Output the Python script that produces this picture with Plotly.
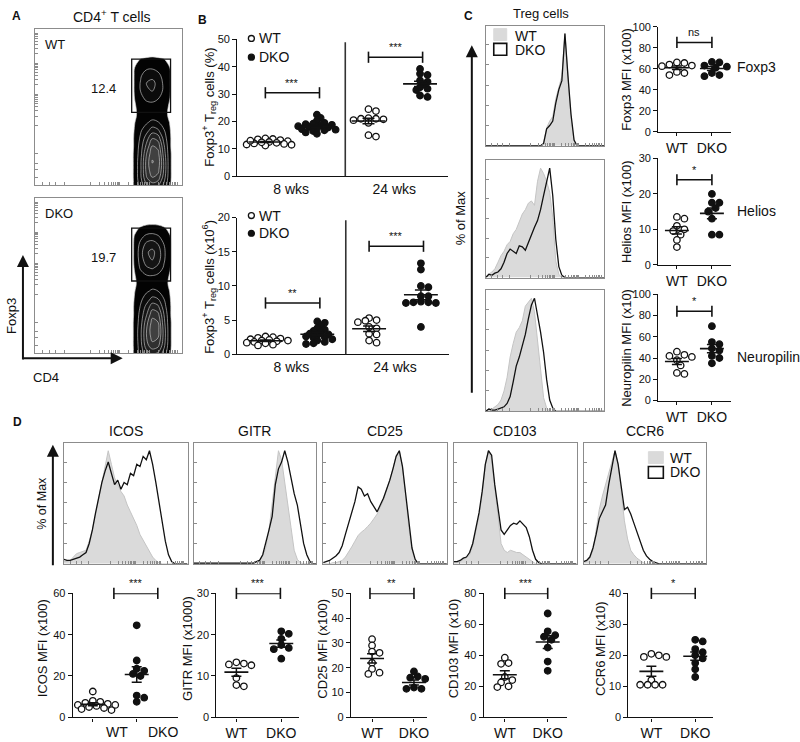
import numpy as np
import plotly.graph_objects as go

W, H = 800, 742
FONT = "Liberation Sans, Arial, sans-serif"
INK = "#111111"

# ---------------- panel A: Foxp3 vs CD4 density (rows = Foxp3 bins, cols = CD4 bins)
a_cd4_bins = [0.64, 0.68, 0.72, 0.76, 0.80, 0.84, 0.88, 0.92, 0.96]
a_foxp3_bins = [0.0, 0.05, 0.10, 0.15, 0.20, 0.25, 0.30, 0.35, 0.40,
                0.45, 0.50, 0.55, 0.60, 0.65, 0.70, 0.75, 0.80, 0.85]
a_wt_density = [
    [0, 1.2, 3.0, 5.0, 6.0, 5.5, 3.5, 1.2, 0],
    [0, 1.3, 3.5, 6.5, 8.0, 7.5, 4.5, 1.3, 0],
    [0, 1.3, 3.5, 7.0, 9.0, 8.5, 5.0, 1.3, 0],
    [0, 1.3, 3.5, 7.0, 9.5, 9.0, 5.0, 1.3, 0],
    [0, 1.3, 3.2, 6.5, 9.0, 8.5, 4.5, 1.3, 0],
    [0, 1.2, 3.0, 5.5, 8.0, 7.5, 4.0, 1.2, 0],
    [0, 1.2, 2.6, 4.5, 6.5, 6.0, 3.2, 1.2, 0],
    [0, 1.1, 2.2, 3.2, 4.5, 4.0, 2.5, 1.1, 0],
    [0, 0.95, 1.8, 2.2, 2.8, 2.5, 1.8, 0.95, 0],
    [0, 0.8, 1.4, 1.6, 1.6, 1.5, 1.3, 0.8, 0],
    [0, 0.85, 1.5, 1.8, 1.8, 1.6, 1.4, 0.85, 0],
    [0, 1.0, 2.0, 2.6, 2.8, 2.4, 1.8, 1.0, 0],
    [0, 1.1, 2.4, 3.4, 3.8, 3.2, 2.1, 1.1, 0],
    [0, 1.1, 2.5, 3.8, 4.2, 3.4, 2.1, 1.1, 0],
    [0, 1.1, 2.2, 3.2, 3.4, 2.8, 1.9, 1.1, 0],
    [0, 1.0, 1.6, 2.1, 2.2, 1.9, 1.5, 1.0, 0],
    [0, 0.6, 1.1, 1.2, 1.3, 1.2, 1.1, 0.6, 0],
    [0, 0, 0.3, 0.5, 0.5, 0.5, 0.3, 0, 0],
]
a_dko_density = [
    [0, 1.2, 3.0, 4.5, 5.5, 5.0, 3.2, 1.2, 0],
    [0, 1.3, 3.2, 6.0, 7.5, 7.0, 4.2, 1.3, 0],
    [0, 1.3, 3.4, 6.5, 8.5, 8.0, 4.6, 1.3, 0],
    [0, 1.3, 3.4, 6.5, 9.0, 8.5, 4.6, 1.3, 0],
    [0, 1.3, 3.1, 6.0, 8.5, 8.0, 4.2, 1.3, 0],
    [0, 1.2, 2.9, 5.0, 7.5, 7.0, 3.8, 1.2, 0],
    [0, 1.2, 2.5, 4.2, 6.0, 5.5, 3.0, 1.2, 0],
    [0, 1.1, 2.1, 3.0, 4.2, 3.8, 2.4, 1.1, 0],
    [0, 0.95, 1.8, 2.2, 2.6, 2.4, 1.8, 0.95, 0],
    [0, 0.8, 1.5, 1.8, 1.8, 1.7, 1.4, 0.8, 0],
    [0, 0.9, 1.8, 2.3, 2.4, 2.1, 1.6, 0.9, 0],
    [0, 1.1, 2.6, 3.6, 4.0, 3.4, 2.2, 1.1, 0],
    [0, 1.2, 3.0, 4.6, 5.2, 4.4, 2.6, 1.2, 0],
    [0, 1.2, 3.2, 5.0, 5.6, 4.6, 2.7, 1.2, 0],
    [0, 1.2, 2.8, 4.2, 4.6, 3.8, 2.4, 1.2, 0],
    [0, 1.1, 2.0, 2.8, 3.0, 2.6, 1.8, 1.1, 0],
    [0, 0.7, 1.2, 1.4, 1.5, 1.4, 1.2, 0.7, 0],
    [0, 0, 0.4, 0.6, 0.6, 0.6, 0.4, 0, 0],
]
a_groups = ["WT", "DKO"]
a_gate_freq = ["12.4", "19.7"]

# ---------------- panel B: Foxp3+ Treg frequency and number
b_ages = ["8 wks", "24 wks"]
b_pct_wt_8 = [13.5, 13.8, 13.2, 13.6, 12.8, 12.5, 12.0, 11.8, 11.5, 11.2, 12.2, 11.6, 12.4, 13.0]
b_pct_dko_8 = [22.5, 21.3, 20.3, 19.5, 19.0, 18.5, 18.3, 18.0, 17.8, 17.5, 17.2,
               16.8, 16.5, 16.0, 15.5, 18.8, 19.2, 17.0]
b_pct_wt_24 = [24.5, 23.8, 21.0, 21.2, 21.0, 20.8, 20.5, 15.0, 14.5, 19.5]
b_pct_dko_24 = [39.2, 37.5, 37.0, 35.0, 34.5, 33.5, 32.5, 32.0, 29.5, 29.0, 31.5]
b_pct_sig = ["***", "***"]
b_num_wt_8 = [2.6, 2.5, 2.4, 2.3, 2.2, 2.1, 2.0, 2.0, 1.9, 1.8, 1.7, 1.6, 1.4, 1.3]
b_num_dko_8 = [4.8, 4.6, 4.2, 3.8, 3.6, 3.4, 3.2, 3.0, 2.9, 2.8, 2.6, 2.5, 2.4,
               2.2, 2.0, 1.8, 1.6, 1.5]
b_num_wt_24 = [5.3, 5.0, 4.9, 4.7, 4.0, 3.8, 3.0, 2.9, 2.0, 1.7]
b_num_dko_24 = [13.3, 12.4, 10.0, 9.8, 8.5, 8.5, 7.6, 7.5, 7.6, 7.7, 7.5, 4.0]
b_num_sig = ["**", "***"]

# ---------------- panel C: Treg histograms (% of max per bin) and MFI
hist_bins = [round(i / 39, 4) for i in range(40)]
c_markers = ["Foxp3", "Helios", "Neuropilin"]
hist_foxp3_wt = [0] * 19 + [3, 16, 22, 26, 42, 52, 62, 100, 58, 25, 4] + [0] * 10
hist_foxp3_dko = [0] * 19 + [2, 15, 18, 22, 38, 50, 58, 100, 62, 28, 5] + [0] * 10
hist_helios_wt = [0, 3, 5, 8, 14, 20, 24, 30, 33, 40, 44, 52, 58, 62, 68, 70, 66, 88,
                  100, 95, 88, 78, 55, 15, 3, 0] + [0] * 14
hist_helios_dko = [0, 3, 2, 4, 5, 8, 14, 22, 26, 24, 22, 29, 28, 25, 32, 40, 46, 52,
                   62, 75, 88, 100, 75, 35, 10, 2] + [0] * 14
hist_nrp_wt = [0, 2, 2, 4, 6, 10, 18, 30, 48, 60, 70, 74, 80, 93, 97, 100, 88, 62,
               35, 12, 3, 0] + [0] * 18
hist_nrp_dko = [0, 2, 1, 1, 2, 3, 4, 7, 13, 26, 40, 48, 58, 68, 82, 94, 100, 86, 70,
                52, 28, 10, 3, 0] + [0] * 16
c_foxp3_wt = [66, 65.5, 64, 63, 62.5, 57, 56, 54]
c_foxp3_dko = [66.5, 66, 63, 62, 61, 56, 54, 53]
c_helios_wt = [13.5, 13, 11, 10, 9.5, 8.5, 7, 5]
c_helios_dko = [20, 17.5, 17.5, 16, 15, 13, 8.5, 8.5]
c_nrp_wt = [46, 43, 42, 41, 38, 33, 26, 25]
c_nrp_dko = [70, 55, 53, 49, 47, 42, 40, 35]
c_sig = ["ns", "*", "*"]

# ---------------- panel D: other Treg markers
d_markers = ["ICOS", "GITR", "CD25", "CD103", "CCR6"]
hist_icos_wt = [2, 2, 3, 6, 9, 10, 11, 12, 20, 30, 44, 58, 72, 88, 100, 88, 76, 70, 64,
                60, 52, 46, 40, 34, 26, 21, 16, 11, 6, 3, 1] + [0] * 9
hist_icos_dko = [4, 3, 3, 4, 5, 6, 8, 10, 18, 30, 45, 60, 72, 82, 90, 80, 70, 74, 66,
                 72, 70, 80, 78, 88, 86, 95, 92, 100, 88, 72, 56, 38, 20, 8, 2] + [0] * 5
hist_gitr_wt = [0.5] * 20 + [2, 3, 7, 14, 30, 52, 78, 100, 92, 74, 52, 32, 12, 4, 1,
                             0, 0, 0, 0, 0]
hist_gitr_dko = [0.5] * 20 + [2, 3, 8, 18, 30, 42, 70, 84, 90, 100, 90, 76, 62, 52,
                              36, 18, 8, 2, 0, 0]
hist_cd25_wt = [0, 0, 0, 1, 1, 2, 3, 6, 10, 15, 20, 25, 28, 30, 33, 36, 40, 44, 50, 56,
                66, 74, 84, 96, 100, 86, 60, 32, 12, 3, 0] + [0] * 9
hist_cd25_dko = [1, 2, 3, 5, 7, 10, 16, 26, 36, 46, 55, 68, 66, 60, 62, 55, 50, 46, 52,
                 58, 66, 74, 84, 95, 100, 86, 62, 35, 14, 4, 0] + [0] * 9
hist_cd103_wt = [1, 1, 2, 4, 5, 8, 16, 30, 42, 62, 88, 100, 92, 68, 44, 18, 12, 10, 12,
                 11, 10, 10, 8, 6, 4, 2, 0] + [0] * 13
hist_cd103_dko = [2, 2, 3, 5, 6, 10, 18, 32, 45, 64, 88, 100, 96, 70, 48, 30, 26, 30,
                  34, 36, 35, 38, 35, 32, 24, 12, 4, 1] + [0] * 12
hist_ccr6_wt = [1, 2, 5, 12, 30, 48, 60, 70, 78, 90, 100, 88, 62, 38, 22, 12, 8, 5, 3,
                1, 0] + [0] * 19
hist_ccr6_dko = [2, 3, 6, 14, 26, 40, 46, 52, 70, 84, 100, 88, 68, 48, 50, 44, 36, 28,
                 20, 12, 7, 4, 2, 1] + [0] * 16
d_icos_wt = [12.5, 8, 7.5, 7, 6.5, 6, 6, 5.5, 5, 4.5, 4, 3.5]
d_icos_dko = [44.5, 27.5, 23.5, 22.5, 21, 20, 10.5, 9.5, 7.5]
d_gitr_wt = [13.3, 13.0, 12.8, 12.6, 9.5, 7.5, 7.8]
d_gitr_dko = [20.8, 20.2, 19.0, 17.5, 16.8, 16.5, 14.2]
d_cd25_wt = [31.5, 29, 26.5, 26, 22, 19.5, 18, 17.5]
d_cd25_dko = [18.5, 16.5, 16, 15.5, 12, 11.5, 11.5, 11]
d_cd103_wt = [38.5, 35, 34.5, 26, 24, 22.5, 20, 19.5]
d_cd103_dko = [67, 55.5, 53, 52, 50, 45, 36, 30]
d_ccr6_wt = [20.5, 20, 19.5, 19.5, 12, 10.5, 10.5, 10.5, 10.5]
d_ccr6_dko = [25, 24.5, 22, 21, 20, 19, 17.5, 15.5, 13]
d_sig = ["***", "***", "**", "***", "*"]

# ---------------- helpers
fig = go.Figure()
layout = dict(width=W, height=H, margin=dict(l=0, r=0, t=0, b=0), autosize=False,
              paper_bgcolor="white", plot_bgcolor="white", showlegend=False,
              font=dict(family=FONT, color=INK))
shapes, anns = [], []
n_ax = [0]


def P(x, y):
    return dict(x=x / W, y=1 - y / H, xref="paper", yref="paper")


def text(x, y, s, size=13, anchor="center", angle=0):
    anns.append(dict(**P(x, y), text=s, showarrow=False, xanchor=anchor, yanchor="middle",
                     textangle=angle, font=dict(size=size, family=FONT, color=INK)))


def arrow(hx, hy, tx, ty):
    anns.append(dict(**P(hx, hy), ax=tx - hx, ay=ty - hy, text="", showarrow=True,
                     arrowhead=2, arrowsize=1.2, arrowwidth=2, arrowcolor=INK))


def box_px(x0, y0, x1, y1, fill, line, width=1.5):
    shapes.append(dict(type="rect", xref="paper", yref="paper", x0=x0 / W, x1=x1 / W,
                       y0=1 - y1 / H, y1=1 - y0 / H, fillcolor=fill,
                       line=dict(color=line, width=width)))


def dot_px(cx, cy, r, filled):
    shapes.append(dict(type="circle", xref="paper", yref="paper", x0=(cx - r) / W,
                       x1=(cx + r) / W, y0=1 - (cy + r) / H, y1=1 - (cy - r) / H,
                       fillcolor=INK if filled else "white", line=dict(color=INK, width=1.3)))


def add_axes(box, xr, yr, xkw, ykw):
    n_ax[0] += 1
    sfx = "" if n_ax[0] == 1 else str(n_ax[0])
    x0, y0, x1, y1 = box
    xa = dict(domain=[x0 / W, x1 / W], range=xr, anchor="y" + sfx, showgrid=False,
              zeroline=False)
    ya = dict(domain=[1 - y1 / H, 1 - y0 / H], range=yr, anchor="x" + sfx, showgrid=False,
              zeroline=False)
    xa.update(xkw)
    ya.update(ykw)
    layout["xaxis" + sfx] = xa
    layout["yaxis" + sfx] = ya
    return "x" + sfx, "y" + sfx


facs_ticks = sorted({round(d + 0.2 * np.log10(k), 3) for d in (0.38, 0.58, 0.78)
                     for k in range(1, 10) if d + 0.2 * np.log10(k) < 0.99}
                    | {0.05, 0.1, 0.14, 0.2})


def facs_axis(ticks):
    return dict(showline=True, mirror=True, linecolor="#8c8c8c", linewidth=1,
                ticks="inside", ticklen=3, tickcolor="#8c8c8c", tickvals=ticks,
                showticklabels=False)


def dot_axes(box, xr, yr, yticks, xvals, xtext, xticks="outside"):
    common = dict(showline=True, linecolor=INK, linewidth=1.4, ticklen=4, tickwidth=1.3,
                  tickcolor=INK)
    xa, ya = add_axes(box, xr, yr,
                      dict(common, ticks=xticks, tickvals=xvals, ticktext=xtext,
                           ticklen=3, tickfont=dict(size=14)),
                      dict(common, ticks="outside", tickvals=yticks, tickfont=dict(size=11)))
    ppu_x = (box[2] - box[0]) / (xr[1] - xr[0])
    ppu_y = (box[3] - box[1]) / (yr[1] - yr[0])
    return xa, ya, ppu_x, ppu_y


def swarm(vals, ppu_x, ppu_y, d, pack):
    vals = np.asarray(vals, float)
    cands = [0.0]
    for k in range(1, 40):
        cands += [k * d * 0.5, -k * d * 0.5]
    placed, offs = [], np.zeros(len(vals))
    for i in np.argsort(-vals):
        y = vals[i] * ppu_y
        for c in cands:
            if all((c - px) ** 2 + (y - py) ** 2 >= (pack * d) ** 2 for px, py in placed):
                placed.append((c, y))
                offs[i] = c / ppu_x
                break
    return offs


def add_group(ax, pos, vals, filled, d=6.5, mean_hw=12, cap=5, pack=0.8):
    xa, ya, ppu_x, ppu_y = ax
    vals = np.asarray(vals, float)
    offs = swarm(vals, ppu_x, ppu_y, d + 1, pack)
    fig.add_trace(go.Scatter(
        x=pos + offs, y=vals, mode="markers", xaxis=xa, yaxis=ya, cliponaxis=False,
        marker=dict(symbol="circle", size=d, color=INK if filled else "white",
                    line=dict(color=INK, width=1.3))))
    m = vals.mean()
    sem = vals.std(ddof=1) / np.sqrt(len(vals))
    hw = mean_hw / ppu_x
    fig.add_trace(go.Scatter(x=[pos - hw, pos + hw], y=[m, m], mode="lines", xaxis=xa,
                             yaxis=ya, line=dict(color=INK, width=1.6)))
    fig.add_trace(go.Scatter(x=[pos], y=[m], mode="markers", xaxis=xa, yaxis=ya,
                             marker=dict(size=1, opacity=0),
                             error_y=dict(type="data", array=[sem], width=cap,
                                          thickness=1.5, color=INK)))


def bracket(ax, x0, x1, y, label):
    xa, ya = ax[0], ax[1]
    fig.add_trace(go.Scatter(x=[x0, x1], y=[y, y], mode="lines+markers", xaxis=xa,
                             yaxis=ya, cliponaxis=False, line=dict(color=INK, width=1.6),
                             marker=dict(symbol="line-ns", size=8,
                                         line=dict(color=INK, width=1.6))))
    anns.append(dict(x=(x0 + x1) / 2, y=y, xref=xa, yref=ya, text=label, showarrow=False,
                     yanchor="bottom", yshift=2, font=dict(size=11, family=FONT, color=INK)))


def hist_panel(box, wt, dko):
    xa, ya = add_axes(box, [0, 1], [0, 107], facs_axis(facs_ticks),
                      facs_axis([18, 36, 54, 72, 90]))
    fig.add_trace(go.Scatter(x=hist_bins, y=wt, mode="lines", fill="tozeroy",
                             fillcolor="#dadada", line=dict(color="#c4c4c4", width=1),
                             xaxis=xa, yaxis=ya))
    fig.add_trace(go.Scatter(x=hist_bins, y=dko, mode="lines",
                             line=dict(color=INK, width=1.3), xaxis=xa, yaxis=ya))
    return xa, ya


# ---------------- panel A
text(17, 10, "<b>A</b>", 12)
text(112, 10, "CD4<sup>+</sup> T cells", 14)
a_boxes = [(35, 23, 182, 182), (35, 195, 182, 353)]
for box, grp, dens, freq in zip(a_boxes, a_groups, [a_wt_density, a_dko_density],
                                a_gate_freq):
    xa, ya = add_axes(box, [0, 1], [0, 1], facs_axis(facs_ticks), facs_axis(facs_ticks))
    fig.add_trace(go.Contour(
        x=a_cd4_bins, y=a_foxp3_bins, z=dens, xaxis=xa, yaxis=ya, showscale=False,
        zmin=0, zmax=10, zauto=False, line=dict(color="rgba(205,205,205,0.9)", width=0.7,
                                                smoothing=1.1),
        contours=dict(coloring="fill", start=1, end=9.6, size=1.4),
        colorscale=[[0, "#ffffff"], [0.099, "#ffffff"], [0.1, "#000000"],
                    [0.5, "#181818"], [1, "#505050"]]))
    shapes.append(dict(type="rect", xref=xa, yref=ya, x0=0.66, x1=0.925, y0=0.465,
                       y1=0.805, line=dict(color=INK, width=1.3)))
    anns.append(dict(x=0.47, y=0.615, xref=xa, yref=ya, text=freq, showarrow=False,
                     font=dict(size=13, family=FONT, color=INK)))
    anns.append(dict(x=0.055, y=0.9, xref=xa, yref=ya, text=grp, showarrow=False,
                     xanchor="left", font=dict(size=13, family=FONT, color=INK)))
arrow(23, 253, 23, 359)
arrow(123, 358, 22, 358)
text(12, 315, "Foxp3", 13, angle=-90)
text(46, 378, "CD4", 13)

# ---------------- panel B
text(203, 14, "<b>B</b>", 12)
b_xr = [0.458, 4.54]
b_panels = [
    ((238, 34, 449, 173), [0, 50], [0, 10, 20, 30, 40, 50],
     [b_pct_wt_8, b_pct_dko_8, b_pct_wt_24, b_pct_dko_24], b_pct_sig, [30.5, 43.5],
     "Foxp3<sup>+</sup> T<sub>reg</sub> cells (%)", 103, (33, 52)),
    ((238, 215, 450, 354), [0, 20], [0, 5, 10, 15, 20],
     [b_num_wt_8, b_num_dko_8, b_num_wt_24, b_num_dko_24], b_num_sig, [7.5, 15.8],
     "Foxp3<sup>+</sup> T<sub>reg</sub> cells (x10<sup>6</sup>)", 285, (213, 231)),
]
for box, yr, yt, series, sig, bh, title, ty, leg_y in b_panels:
    ax = dot_axes(box, b_xr, yr, yt, [1.5, 3.5], b_ages, xticks="")
    for pos, vals in zip([1, 2, 3, 4], series):
        add_group(ax, pos, vals, filled=(pos % 2 == 0), mean_hw=17, cap=6, pack=0.62)
    bracket(ax, 1, 2.05, bh[0], sig[0])
    bracket(ax, 3, 4.05, bh[1], sig[1])
    shapes.append(dict(type="line", xref=ax[0], yref=ax[1] + " domain", x0=2.55, x1=2.55,
                       y0=0, y1=0.98, line=dict(color="#333", width=1.6)))
    text(210, ty, title, 13, angle=-90)
    dot_px(252, leg_y[0], 3, False)
    dot_px(252, leg_y[1], 3, True)
    text(258, leg_y[0], "WT", 14, anchor="left")
    text(258, leg_y[1], "DKO", 14, anchor="left")

# ---------------- panel C
text(470, 10, "<b>C</b>", 12)
text(542, 8, "Treg cells", 13)
c_hist_boxes = [(487, 20, 606, 142), (487, 157, 606, 276), (487, 289, 606, 412)]
for box, wt, dko in zip(c_hist_boxes, [hist_foxp3_wt, hist_helios_wt, hist_nrp_wt],
                        [hist_foxp3_dko, hist_helios_dko, hist_nrp_dko]):
    hist_panel(box, wt, dko)
box_px(495, 23, 508, 35, "#dadada", "#dadada", 1)
box_px(495, 38, 508, 50, "rgba(0,0,0,0)", INK, 1.6)
text(514, 30, "WT", 14, anchor="left")
text(514, 45, "DKO", 14, anchor="left")
arrow(473, 40, 473, 389)
text(462, 215, "% of Max", 13, angle=-90)

c_xr = [0.47, 2.55]
c_dot = [
    ((660, 21, 733, 128), [0, 100], [0, 20, 40, 60, 80, 100], c_foxp3_wt, c_foxp3_dko,
     85, "Foxp3 MFI (x100)", 62),
    ((660, 155, 733, 263), [0, 30], [0, 10, 20, 30], c_helios_wt, c_helios_dko,
     24, "Helios MFI (x100)", 208),
    ((660, 293, 733, 401), [0, 100], [0, 20, 40, 60, 80, 100], c_nrp_wt, c_nrp_dko,
     84, "Neuropilin MFI (x10)", 357),
]
for (box, yr, yt, wt, dko, bh, title, ly), marker, sig in zip(c_dot, c_markers, c_sig):
    ax = dot_axes(box, c_xr, yr, yt, [1, 2], ["WT", "DKO"])
    add_group(ax, 1, wt, False)
    add_group(ax, 2, dko, True)
    bracket(ax, 1, 2, bh, sig)
    text(628, (box[1] + box[3]) / 2, title, 13, angle=-90)
    text(737, ly, marker, 14, anchor="left")

# ---------------- panel D
text(18, 423, "<b>D</b>", 12)
d_hist_boxes = [(64, 444, 188, 567), (194, 444, 317, 567), (324, 444, 448, 567),
                (455, 444, 578, 567), (585, 444, 708, 567)]
d_hists = [(hist_icos_wt, hist_icos_dko), (hist_gitr_wt, hist_gitr_dko),
           (hist_cd25_wt, hist_cd25_dko), (hist_cd103_wt, hist_cd103_dko),
           (hist_ccr6_wt, hist_ccr6_dko)]
for box, (wt, dko), marker in zip(d_hist_boxes, d_hists, d_markers):
    hist_panel(box, wt, dko)
    text((box[0] + box[2]) / 2, 432, marker, 14)
box_px(650, 453, 665, 465, "#dadada", "#dadada", 1)
box_px(650, 468, 665, 480, "rgba(0,0,0,0)", INK, 1.6)
text(670, 459, "WT", 14, anchor="left")
text(670, 474, "DKO", 14, anchor="left")
arrow(53, 446, 53, 568)
text(42, 505, "% of Max", 12.5, angle=-90)

d_dot = [
    ((73, 597, 178, 723), [0.545, 2.93], [0, 60], [0, 20, 40, 60], d_icos_wt, d_icos_dko,
     (1.48, 2.48), "ICOS MFI (x100)", 43),
    ((217, 597, 300, 723), [0.556, 2.4], [0, 30], [0, 10, 20, 30], d_gitr_wt,
     d_gitr_dko, (1.0, 1.98), "GITR MFI (x1000)", 188),
    ((352, 597, 428, 723), [0.5, 2.31], [0, 50], [0, 10, 20, 30, 40, 50], d_cd25_wt,
     d_cd25_dko, (0.95, 2.0), "CD25 MFI (x100)", 323),
    ((485, 597, 568, 723), [0.51, 2.44], [0, 80], [0, 20, 40, 60, 80], d_cd103_wt,
     d_cd103_dko, (1.0, 2.0), "CD103 MFI (x10)", 455),
    ((630, 597, 715, 723), [0.477, 2.41], [0, 40], [0, 10, 20, 30, 40], d_ccr6_wt,
     d_ccr6_dko, (1.0, 2.0), "CCR6 MFI (x10)", 602),
]
for i, ((box, xr, yr, yt, wt, dko, bx, title, tx), sig) in enumerate(zip(d_dot, d_sig)):
    if i == 0:
        ax = dot_axes(box, xr, yr, yt, [1, 2], ["", ""])
        for lx, lab in [(1.545, "WT"), (2.59, "DKO")]:
            anns.append(dict(x=lx, y=0, xref=ax[0], yref=ax[1], text=lab, showarrow=False,
                             yanchor="top", yshift=-5,
                             font=dict(size=14, family=FONT, color=INK)))
    else:
        ax = dot_axes(box, xr, yr, yt, [1, 2], ["WT", "DKO"])
    add_group(ax, 1, wt, False, pack=0.72 if i == 0 else 0.8)
    add_group(ax, 2, dko, True)
    bracket(ax, bx[0], bx[1], yr[1], sig)
    text(tx, 653, title, 13, angle=-90)

for tr in fig.data:
    tr.hoverinfo = "skip"
layout["shapes"] = shapes
layout["annotations"] = anns
fig.update_layout(**layout)
fig.write_html("out.html", config={"displayModeBar": False},
               post_script="document.body.style.margin='0';")
